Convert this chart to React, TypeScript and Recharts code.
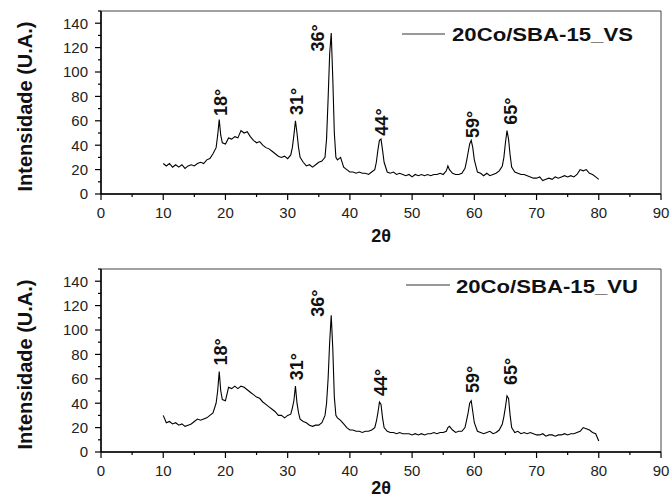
import React from "react";
import { LineChart, Line, XAxis, YAxis, ReferenceArea, ReferenceDot } from "recharts";

// 2θ grid (deg), finer around the peaks
const twoTheta = [
  10, 10.5, 11, 11.5, 12, 12.5, 13, 13.5, 14, 14.5,
  15, 15.5, 16, 16.5, 17, 17.5, 18, 18.5, 18.75, 19,
  19.25, 19.5, 20, 20.5, 21, 21.5, 22, 22.5, 23, 23.5,
  24, 24.5, 25, 25.5, 26, 26.5, 27, 27.5, 28, 28.5,
  29, 29.5, 30, 30.5, 30.75, 31, 31.25, 31.5, 31.75, 32,
  32.5, 33, 33.5, 34, 34.5, 35, 35.5, 36, 36.25, 36.5,
  36.75, 37, 37.25, 37.5, 37.75, 38, 38.5, 39, 39.5, 40,
  40.5, 41, 41.5, 42, 42.5, 43, 43.5, 44, 44.25, 44.5,
  44.75, 45, 45.25, 45.5, 46, 46.5, 47, 47.5, 48, 48.5,
  49, 49.5, 50, 50.5, 51, 51.5, 52, 52.5, 53, 53.5,
  54, 54.5, 55, 55.5, 55.75, 56, 56.5, 57, 57.5, 58,
  58.5, 58.75, 59, 59.25, 59.5, 59.75, 60, 60.5, 61, 61.5,
  62, 62.5, 63, 63.5, 64, 64.5, 64.75, 65, 65.25, 65.5,
  65.75, 66, 66.5, 67, 67.5, 68, 68.5, 69, 69.5, 70,
  70.5, 71, 71.5, 72, 72.5, 73, 73.5, 74, 74.5, 75,
  75.5, 76, 76.5, 77, 77.5, 78, 78.5, 79, 79.5, 80,
];

const vsIntensity = [
  25, 23, 25, 22, 24, 22, 24, 21, 23, 24,
  23, 25, 26, 25, 28, 29, 33, 38, 48, 61,
  48, 42, 41, 46, 45, 47, 46, 52, 50, 51,
  47, 44, 42, 43, 40, 38, 37, 35, 33, 31,
  30, 31, 29, 32, 38, 48, 60, 50, 38, 30,
  26, 23, 24, 22, 24, 26, 27, 30, 45, 78,
  115, 132, 95, 50, 30, 28, 30, 22, 20, 18,
  18, 17, 18, 17, 17, 16, 18, 20, 26, 36,
  44, 45, 36, 26, 18, 17, 18, 16, 17, 16,
  15, 16, 14, 16, 15, 16, 15, 16, 15, 16,
  16, 17, 16, 19, 23, 20, 17, 16, 16, 17,
  21, 27, 34, 41, 44, 38, 28, 18, 17, 15,
  17, 15, 16, 17, 19, 23, 30, 42, 52, 45,
  32, 22, 18, 17, 16, 16, 15, 14, 13, 13,
  14, 11, 12, 13, 12, 14, 13, 14, 15, 14,
  15, 14, 16, 20, 19, 20, 17, 16, 14, 12,
];

const vuIntensity = [
  30, 24, 25, 23, 24, 22, 23, 21, 22, 23,
  25, 27, 26, 27, 28, 30, 32, 40, 50, 66,
  50, 43, 42, 53, 52, 54, 52, 54, 53, 51,
  49, 47, 45, 44, 41, 39, 37, 35, 33, 30,
  30, 28, 30, 31, 36, 42, 54, 40, 32, 27,
  25, 24, 22, 21, 22, 22, 24, 30, 40, 60,
  90, 112, 85, 45, 30, 28, 26, 23, 20, 18,
  18, 17, 17, 16, 17, 17, 18, 20, 25, 32,
  41, 39, 28, 20, 17, 16, 16, 15, 16, 15,
  15, 15, 14, 15, 14, 15, 14, 15, 15, 16,
  15, 16, 16, 17, 20, 21, 18, 16, 17, 17,
  20, 26, 32, 40, 42, 33, 24, 17, 16, 15,
  16, 17, 15, 16, 18, 23, 29, 37, 46, 44,
  30, 20, 16, 17, 15, 16, 15, 16, 15, 14,
  14, 15, 13, 14, 14, 13, 14, 14, 15, 14,
  15, 15, 16, 17, 20, 19, 18, 16, 15, 9,
];

const peakLabels = ["18°", "31°", "36°", "44°", "59°", "65°"];
const vsLabelX = [19.3, 31.5, 34.9, 45.2, 59.8, 65.9];
const vsLabelY = [75, 76, 128, 59, 57, 68];
const vuLabelX = [19.3, 31.5, 34.9, 45.0, 59.8, 65.9];
const vuLabelY = [82, 70, 122, 57, 59.5, 66];

const xTicks = [0, 5, 10, 15, 20, 25, 30, 35, 40, 45, 50, 55, 60, 65, 70, 75, 80, 85, 90];
const yTicks = [0, 10, 20, 30, 40, 50, 60, 70, 80, 90, 100, 110, 120, 130, 140, 150];

const rows = twoTheta.map((t, i) => ({ t, vs: vsIntensity[i], vu: vuIntensity[i] }));

const FONT = "Arial, 'Liberation Sans', sans-serif";

const XTick = (p: any) => {
  const v = p.payload.value;
  const major = v % 10 === 0;
  const y0 = p.y - 13;
  return (
    <g>
      <line x1={p.x} x2={p.x} y1={y0} y2={y0 + (major ? 6 : 3)} stroke="#000" strokeWidth={1.2} />
      {major && (
        <text x={p.x} y={p.y} dy="0.71em" textAnchor="middle" fontSize={15} fontFamily={FONT} fill="#222">{v}</text>
      )}
    </g>
  );
};

const YTick = (p: any) => {
  const v = p.payload.value;
  const major = v % 20 === 0 && v <= 140;
  const x0 = p.x + 13;
  return (
    <g>
      <line x1={x0} x2={x0 - (major ? 6 : 3)} y1={p.y} y2={p.y} stroke="#000" strokeWidth={1.2} />
      {major && (
        <text x={p.x} y={p.y} dy="0.355em" textAnchor="end" fontSize={15} fontFamily={FONT} fill="#222">{v}</text>
      )}
    </g>
  );
};

type PanelProps = {
  dataKey: string;
  height: number;
  margin: { top: number; right: number; bottom: number; left: number };
  labelX: number[];
  labelY: number[];
  titleDrop: number;
};

function Panel({ dataKey, height, margin, labelX, labelY, titleDrop }: PanelProps) {
  return (
    <LineChart width={671} height={height} data={rows} margin={margin}>
      <XAxis
        type="number" dataKey="t" domain={[0, 90]} ticks={xTicks} interval={0} height={30}
        tickSize={6} tickMargin={7} tickLine={false} tick={<XTick />}
        axisLine={{ stroke: "#000", strokeWidth: 1.5 }}
        label={(lp: any) => (
          <text x={lp.viewBox.x + lp.viewBox.width / 2} y={lp.viewBox.y + titleDrop} textAnchor="middle"
            fontSize={18} fontWeight="bold" fontFamily={FONT} fill="#111">2θ</text>
        )}
      />
      <YAxis
        type="number" domain={[0, 150]} ticks={yTicks} interval={0} width={101}
        tickSize={6} tickMargin={7} tickLine={false} tick={<YTick />}
        axisLine={{ stroke: "#000", strokeWidth: 1.5 }}
        label={(lp: any) => {
          const cx = 25;
          const cy = lp.viewBox.y + lp.viewBox.height / 2 + 4;
          return (
            <text x={cx} y={cy} transform={`rotate(-90 ${cx} ${cy})`} textAnchor="middle" dominantBaseline="central"
              fontSize={20} fontWeight="bold" fontFamily={FONT} fill="#111">Intensidade (U.A.)</text>
          );
        }}
      />
      <ReferenceArea x1={0} x2={90} y1={0} y2={150} fill="none" stroke="#444" strokeWidth={1} />
      <Line type="linear" dataKey={dataKey} stroke="#000" strokeWidth={1.1} dot={false} isAnimationActive={false} />
      {peakLabels.map((lab, i) => (
        <ReferenceDot
          key={lab} x={labelX[i]} y={labelY[i]} r={0}
          shape={(sp: any) => (
            <text x={sp.cx} y={sp.cy} transform={`rotate(-90 ${sp.cx} ${sp.cy})`} textAnchor="middle"
              dominantBaseline="central" fontSize={18} fontWeight="bold" fontFamily={FONT} fill="#111">{lab}</text>
          )}
        />
      ))}
    </LineChart>
  );
}

export default function App() {
  return (
    <div style={{ position: "absolute", left: 0, top: 0, width: 671, height: 499, background: "#fff", fontFamily: FONT }}>
      <div style={{ position: "absolute", left: 0, top: 0 }}>
        <Panel dataKey="vs" height={250} margin={{ top: 11, right: 10, bottom: 26, left: 0 }}
          labelX={vsLabelX} labelY={vsLabelY} titleDrop={48} />
      </div>
      <div style={{ position: "absolute", left: 0, top: 250 }}>
        <Panel dataKey="vu" height={249} margin={{ top: 19, right: 10, bottom: 17, left: 0 }}
          labelX={vuLabelX} labelY={vuLabelY} titleDrop={42} />
      </div>
      <svg width={671} height={499} style={{ position: "absolute", left: 0, top: 0, pointerEvents: "none" }}>
        <line x1={402} x2={445} y1={34} y2={34} stroke="#333" strokeWidth={1} />
        <text x={452} y={41} fontSize={19} fontWeight="bold" fontFamily={FONT} fill="#111" textLength={181} lengthAdjust="spacingAndGlyphs">20Co/SBA-15_VS</text>
        <line x1={406} x2={450} y1={285} y2={285} stroke="#333" strokeWidth={1} />
        <text x={456} y={293} fontSize={19} fontWeight="bold" fontFamily={FONT} fill="#111" textLength={182} lengthAdjust="spacingAndGlyphs">20Co/SBA-15_VU</text>
      </svg>
    </div>
  );
}
